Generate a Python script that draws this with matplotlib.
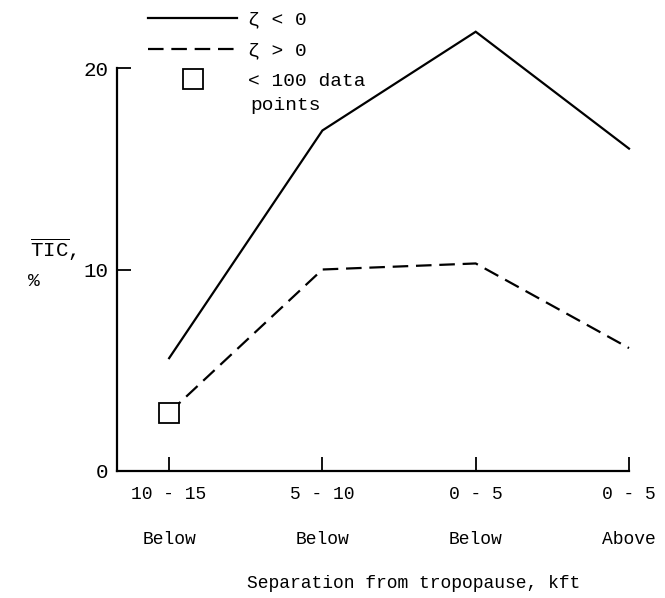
import matplotlib
matplotlib.use("Agg")
import matplotlib.pyplot as plt
from matplotlib.lines import Line2D

plt.rcParams['font.family'] = ['Liberation Mono', 'DejaVu Sans Mono']
plt.rcParams['mathtext.fontset'] = 'custom'
plt.rcParams['mathtext.rm'] = 'Liberation Mono'

categories = ["10 - 15", "5 - 10", "0 - 5", "0 - 5"]
positions = ["Below", "Below", "Below", "Above"]
zeta_neg = [5.6, 16.9, 21.8, 16.0]
zeta_pos = [2.9, 10.0, 10.3, 6.1]
few_points_idx = [0]
y_ticks = [0, 10, 20]

W, H = 665, 598
fig = plt.figure(figsize=(W / 100, H / 100), dpi=100)
ax = fig.add_axes([117 / W, 1 - 471 / H, (629 - 117) / W, (471 - 68) / H])

x = list(range(len(categories)))
fs = 13
ax.plot(x, zeta_neg, color='black', lw=1.6, clip_on=False, solid_joinstyle='miter')
ln, = ax.plot(x, zeta_pos, color='black', lw=1.6, clip_on=False)
ln.set_dashes([7, 3.5])
ax.plot([x[i] for i in few_points_idx], [zeta_pos[i] for i in few_points_idx],
        linestyle='none', marker='s', ms=14, mfc='white', mec='black', mew=1.3,
        clip_on=False, zorder=5)

ax.set_xlim(-0.34, 3)
ax.set_ylim(0, 20)
for s in ['top', 'right']:
    ax.spines[s].set_visible(False)
for s in ['left', 'bottom']:
    ax.spines[s].set_linewidth(1.6)
ax.set_xticks(x)
ax.set_xticklabels([f"{c}\n\n{p}" for c, p in zip(categories, positions)],
                   fontsize=fs, linespacing=1.4)
ax.set_yticks(y_ticks)
ax.set_yticklabels([str(v) for v in y_ticks], fontsize=fs + 2)
ax.tick_params(axis='both', direction='in', length=10, width=1.3)
ax.tick_params(axis='x', pad=11)
ax.tick_params(axis='y', pad=6)
ax.set_xlabel("Separation from tropopause, kft", fontsize=fs, labelpad=24)
ax.xaxis.set_label_coords((414 - 117) / (629 - 117), -(583 - 471) / (471 - 68))
ax.xaxis.label.set_va('center')

fig.text(30 / W, 1 - 250 / H, r'$\overline{\mathrm{TIC}}$,', fontsize=fs + 2, ha='left', va='center')
fig.text(28 / W, 1 - 282 / H, '%', fontsize=fs + 1, ha='left', va='center')

dash_handle = Line2D([], [], color='black', lw=1.6)
dash_handle.set_dashes([7, 3.5])
handles = [Line2D([], [], color='black', lw=1.6),
           dash_handle,
           Line2D([], [], linestyle='none', marker='s', ms=14, mfc='white', mec='black', mew=1.3)]
labels = ["ζ < 0", "ζ > 0", "< 100 data"]
leg = fig.legend(handles, labels, loc='upper left', bbox_to_anchor=(148 / W, 1 - 11 / H),
                 frameon=False, fontsize=fs + 1, handlelength=4.6, handletextpad=0.55,
                 borderpad=0, borderaxespad=0, labelspacing=0.68)
fig.text(250 / W, 1 - 105 / H, "points", fontsize=fs + 1, ha='left', va='center')

fig.savefig("out.png", dpi=100)
